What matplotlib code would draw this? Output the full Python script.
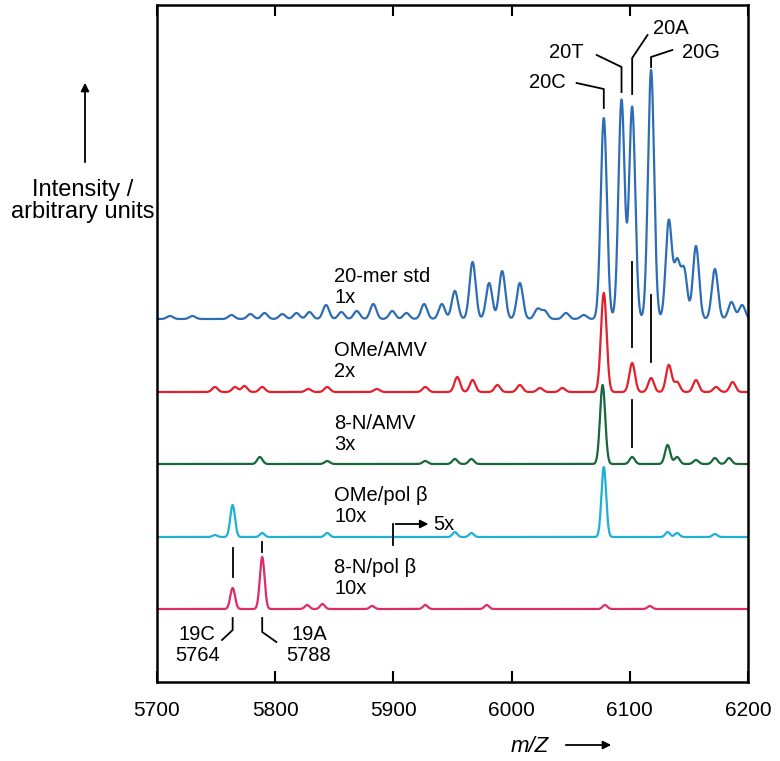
import numpy as np
import matplotlib
matplotlib.use("Agg")
import matplotlib.pyplot as plt

plt.rcParams['font.family'] = ['Liberation Sans', 'DejaVu Sans']

# ---------------- data (peak tables) ----------------
mz_grid = np.linspace(5700, 6200, 2501)

std_baseline = 363
std_centers = [5711, 5730, 5763, 5779, 5791, 5806, 5818, 5829, 5843, 5856, 5869, 5883, 5899, 5911,
               5926, 5941, 5952, 5967, 5981, 5992, 6007, 6022, 6028, 6046, 6061,
               6078, 6093, 6102, 6118, 6133, 6140, 6146, 6156, 6172, 6186, 6195]
std_heights = [3, 3, 4, 5, 6, 5, 6, 7, 14, 7, 8, 15, 8, 6,
               15, 15, 28, 57, 36, 48, 36, 10, 8, 6, 4,
               201, 219, 212, 249, 98, 55, 48, 73, 50, 17, 14]

ome_amv_baseline = 290
ome_amv_centers = [5749, 5766, 5774, 5789, 5828, 5844, 5886, 5927, 5954, 5967, 5988, 6007,
                   6024, 6043, 6078, 6102, 6118, 6133, 6140, 6156, 6173, 6187]
ome_amv_heights = [5, 5, 6, 5, 3, 5, 3, 5, 15, 12, 7, 7,
                   4, 4, 99, 29, 14, 27, 10, 12, 5, 10]

n8_amv_baseline = 218
n8_amv_centers = [5787, 5844, 5927, 5952, 5966, 6077, 6102, 6132, 6140, 6156, 6172, 6184]
n8_amv_heights = [7, 3, 3, 5, 5, 79, 7, 19, 7, 4, 6, 6]

ome_pol_baseline = 145
ome_pol_centers = [5749, 5764, 5789, 5844, 5952, 5966, 6078, 6132, 6140, 6172]
ome_pol_heights = [2, 32, 4, 4, 5, 4, 70, 5, 4, 3]

n8_pol_baseline = 73
n8_pol_centers = [5764, 5789, 5827, 5840, 5882, 5927, 5979, 6079, 6117]
n8_pol_heights = [21, 52, 4, 5, 3, 4, 4, 4, 3]

trace_labels = ["20-mer std\n1x", "OMe/AMV\n2x", "8-N/AMV\n3x", "OMe/pol \u03b2\n10x", "8-N/pol \u03b2\n10x"]
trace_colors = ["#2e6db4", "#e3202c", "#17683a", "#1fb0d6", "#dc2c6c"]
peak_sigma = [2.6, 2.4, 2.2, 2.0, 2.0]

x_ticks = [5700, 5800, 5900, 6000, 6100, 6200]

# ---------------- figure ----------------
fig = plt.figure(figsize=(7.8, 7.61), dpi=100)
ax = fig.add_axes([157/780, 1 - 682/761, (748-157)/780, (682-5)/761])

def spectrum(base, centers, heights, sigma):
    y = np.full_like(mz_grid, float(base))
    for c, h in zip(centers, heights):
        y += h * np.exp(-0.5 * ((mz_grid - c) / sigma) ** 2)
    return y

traces = [
    (std_baseline, std_centers, std_heights),
    (ome_amv_baseline, ome_amv_centers, ome_amv_heights),
    (n8_amv_baseline, n8_amv_centers, n8_amv_heights),
    (ome_pol_baseline, ome_pol_centers, ome_pol_heights),
    (n8_pol_baseline, n8_pol_centers, n8_pol_heights),
]
for (b, c, h), col, s in zip(traces, trace_colors, peak_sigma):
    ax.plot(mz_grid, spectrum(b, c, h, s), color=col, lw=1.6)

ax.set_xlim(5700, 6200)
ax.set_ylim(0, 677)
ax.set_yticks([])
ax.set_xticks(x_ticks)
ax.set_xticklabels([str(t) for t in x_ticks], fontsize=15)
ax.tick_params(axis='x', direction='in', length=8, width=1.5, top=True, pad=14)
for sp in ax.spines.values():
    sp.set_linewidth(1.8)

FS = 14.5

# trace labels
label_y = [395, 321, 248, 176, 104]
for txt, yy in zip(trace_labels, label_y):
    ax.text(5850, yy, txt, fontsize=FS, ha='left', va='center', linespacing=1.15)

# 5x bent arrow
ax.plot([5900, 5900], [137, 158], color='black', lw=1.3)
ax.annotate('', xy=(5932, 158), xytext=(5899.5, 158),
            arrowprops=dict(arrowstyle='-|>', color='black', lw=1.3, mutation_scale=12))
ax.text(5934, 158, '5x', fontsize=FS, ha='left', va='center')

# marker lines
for xx, y0, y1 in [(6102, 335, 420), (6118, 320, 387), (6102, 235, 282),
                   (5764, 105, 134), (5789, 130, 140)]:
    ax.plot([xx, xx], [y0, y1], color='black', lw=1.3)

# peak labels with leaders
lk = dict(color='black', lw=1.3)
ax.plot([6055, 6078, 6078], [599, 593, 574], **lk)
ax.text(6030.5, 600, '20C', fontsize=FS, ha='center', va='center')
ax.plot([6072, 6093, 6093], [627, 615, 590], **lk)
ax.text(6046.6, 630, '20T', fontsize=FS, ha='center', va='center')
ax.plot([6115, 6102, 6102], [647, 624, 588], **lk)
ax.text(6135, 654, '20A', fontsize=FS, ha='center', va='center')
ax.plot([6136, 6118, 6118], [632, 625, 615], **lk)
ax.text(6160, 630, '20G', fontsize=FS, ha='center', va='center')

ax.plot([5764, 5764, 5755], [64, 52, 42], **lk)
ax.text(5734, 37, '19C\n5764', fontsize=FS, ha='center', va='center', linespacing=1.15)
ax.plot([5789, 5789, 5801], [64, 50, 40], **lk)
ax.text(5828.5, 37, '19A\n5788', fontsize=FS, ha='center', va='center', linespacing=1.15)

# outside labels
fig.text(83/780, 1 - 201/761, 'Intensity /\narbitrary units', fontsize=17,
         ha='center', va='center', linespacing=1.05)
fig.add_artist(matplotlib.patches.FancyArrowPatch(
    (85/780, 1 - 165/761), (85/780, 1 - 80/761), transform=fig.transFigure,
    arrowstyle='-|>', mutation_scale=12, color='black', lw=1.3))
fig.text(530/780, 1 - 746/761, 'm/Z', fontsize=16, style='italic', ha='center', va='center')
fig.add_artist(matplotlib.patches.FancyArrowPatch(
    (563/780, 1 - 745/761), (614/780, 1 - 745/761), transform=fig.transFigure,
    arrowstyle='-|>', mutation_scale=12, color='black', lw=1.3))

fig.savefig('out.png', dpi=100)
